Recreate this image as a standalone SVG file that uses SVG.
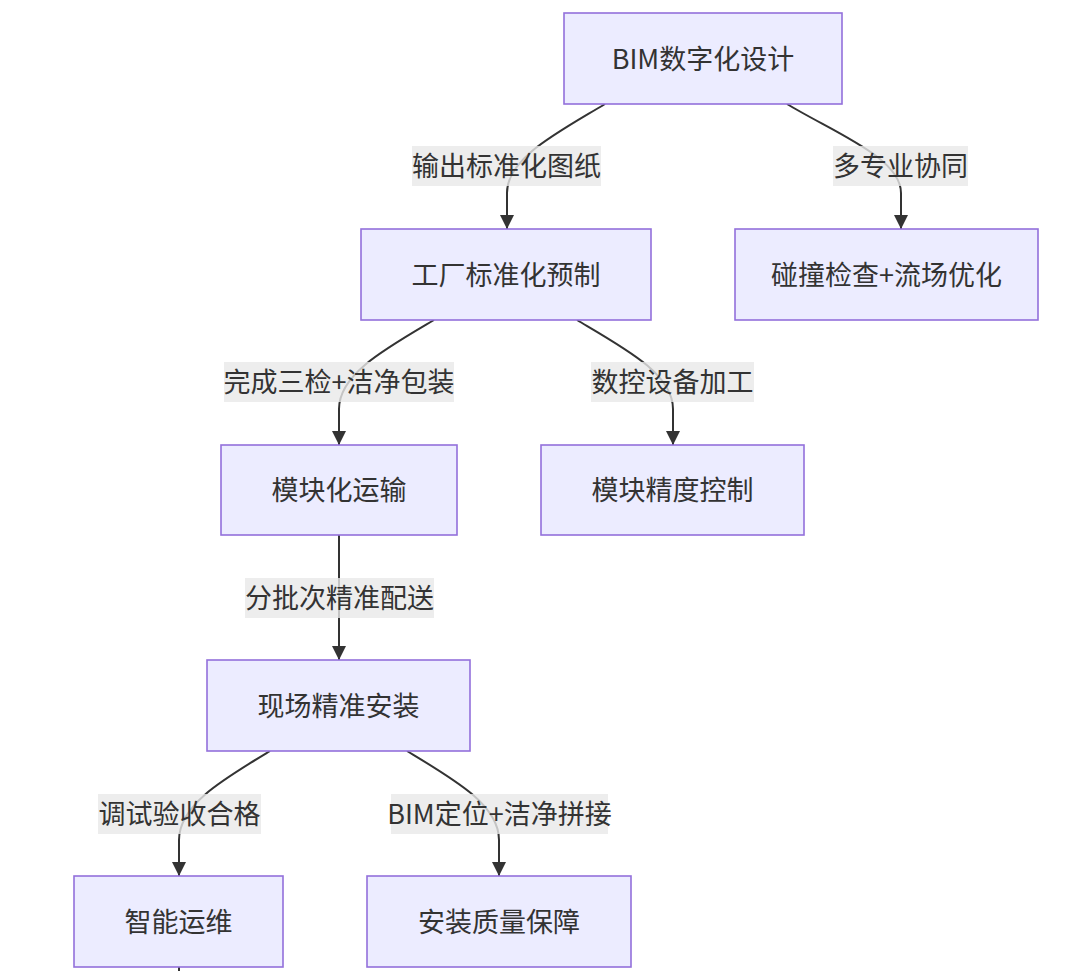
<svg xmlns="http://www.w3.org/2000/svg" width="1080" height="971" viewBox="0 0 1080 971">
<style>
.node rect{fill:#ECECFF;stroke:#9370DB;stroke-width:1.6}
text{font-family:"Noto Sans CJK SC","Noto Sans",sans-serif;font-size:27px;fill:#333;text-anchor:middle;dominant-baseline:central}
.edge{fill:none;stroke:#333;stroke-width:2}
.lbl rect{fill:#e8e8e8;fill-opacity:0.8}
</style>
<defs>
<marker id="arr" viewBox="0 0 10 10" refX="10" refY="5" markerUnits="userSpaceOnUse" markerWidth="14" markerHeight="14" orient="auto">
<path d="M0,0 L10,5 L0,10 z" fill="#333"/>
</marker>
</defs>
<rect width="1080" height="971" fill="#fff"/>
<g id="edges">
<path class="edge" d="M605,104 C557,133 507,158 507,193 L507,229" marker-end="url(#arr)"/>
<path class="edge" d="M787,104 C835,133 901,158 901,193 L901,229" marker-end="url(#arr)"/>
<path class="edge" d="M434,320 C385,349 339,374 339,409 L339,445" marker-end="url(#arr)"/>
<path class="edge" d="M577,320 C626,349 673,374 673,409 L673,445" marker-end="url(#arr)"/>
<path class="edge" d="M339,535 L339,660" marker-end="url(#arr)"/>
<path class="edge" d="M270,751 C222,780 179,805 179,840 L179,876" marker-end="url(#arr)"/>
<path class="edge" d="M407,751 C455,780 499,805 499,840 L499,876" marker-end="url(#arr)"/>
<path class="edge" d="M179,967 L179,971"/>
</g>
<g id="labels">
<g class="lbl"><rect x="412" y="146" width="189" height="40"/><text x="506.5" y="164.5">输出标准化图纸</text></g>
<g class="lbl"><rect x="833" y="146" width="135" height="40"/><text x="900.5" y="164.5">多专业协同</text></g>
<g class="lbl"><rect x="224" y="362" width="230" height="40"/><text x="339" y="380.5">完成三检+洁净包装</text></g>
<g class="lbl"><rect x="591" y="362" width="163" height="40"/><text x="672.5" y="380.5">数控设备加工</text></g>
<g class="lbl"><rect x="245" y="578" width="189" height="40"/><text x="339.5" y="596.5">分批次精准配送</text></g>
<g class="lbl"><rect x="98" y="794" width="163" height="40"/><text x="179.5" y="812.5">调试验收合格</text></g>
<g class="lbl"><rect x="391" y="794" width="217" height="40"/><text x="499.5" y="812.5">BIM定位+洁净拼接</text></g>
</g>
<g id="nA" class="node"><rect x="564" y="13" width="278" height="91"/><text x="703" y="57">BIM数字化设计</text></g>
<g id="nB" class="node"><rect x="361" y="229" width="290" height="91"/><text x="506" y="273">工厂标准化预制</text></g>
<g id="nC" class="node"><rect x="735" y="229" width="303" height="91"/><text x="886.5" y="273">碰撞检查+流场优化</text></g>
<g id="nD" class="node"><rect x="221" y="445" width="236" height="90"/><text x="339" y="488.5">模块化运输</text></g>
<g id="nE" class="node"><rect x="541" y="445" width="263" height="90"/><text x="672.5" y="488.5">模块精度控制</text></g>
<g id="nF" class="node"><rect x="207" y="660" width="263" height="91"/><text x="338.5" y="704">现场精准安装</text></g>
<g id="nG" class="node"><rect x="74" y="876" width="209" height="91"/><text x="178.5" y="920">智能运维</text></g>
<g id="nH" class="node"><rect x="367" y="876" width="264" height="91"/><text x="499" y="920">安装质量保障</text></g>
</svg>
